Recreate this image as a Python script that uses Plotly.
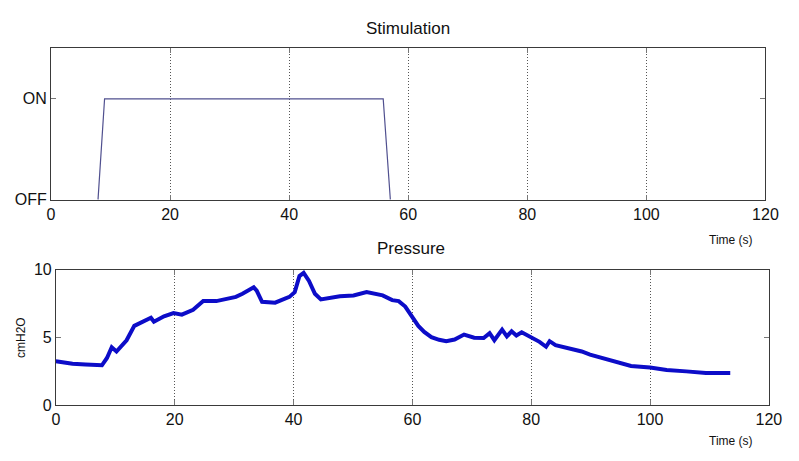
import plotly.graph_objects as go

# ---- data ----
stim_t = [7.9, 9.0, 55.8, 57.0]
stim_v = [0, 1, 1, 0]

press_t = [0, 0.5, 1.5, 2.8, 5.0, 7.0, 7.75, 8.6, 9.4, 10.2, 11.9, 13.2, 15.4, 16.0, 16.5, 18.2, 19.8,
           21.2, 23.1, 24.8, 27.0, 29.2, 30.3, 31.4, 33.3, 33.8, 34.7, 36.9, 39.3, 40.2, 41.0,
           41.7, 42.6, 43.6, 44.6, 47.8, 50.1, 52.3, 55.0, 56.6, 57.7, 58.8, 60.2, 61.0, 62.0, 63.2,
           64.5, 65.7, 67.1, 68.7, 70.4, 72.0, 73.0, 73.8, 75.1, 75.9, 76.7, 77.5, 78.4, 80.0, 81.4,
           82.5, 83.1, 84.1, 86.9, 88.5, 89.9, 91.8, 94.0, 96.8, 100.0, 102.8, 106.1, 109.4, 113.5]
press_v = [3.24, 3.2, 3.1, 3.06, 3.0, 2.97, 2.94, 3.48, 4.27, 3.96, 4.79, 5.85, 6.33, 6.45, 6.16, 6.56, 6.8,
           6.68, 7.04, 7.68, 7.68, 7.92, 7.99, 8.22, 8.7, 8.46, 7.63, 7.56, 7.99, 8.34, 9.53,
           9.76, 9.17, 8.22, 7.8, 8.04, 8.1, 8.34, 8.1, 7.75, 7.68, 7.28, 6.33, 5.85, 5.4, 5.02,
           4.82, 4.72, 4.84, 5.21, 4.98, 4.95, 5.31, 4.79, 5.57, 5.07, 5.45, 5.14, 5.38, 5.02, 4.67,
           4.31, 4.72, 4.43, 4.13, 3.96, 3.72, 3.48, 3.17, 2.89, 2.77, 2.6, 2.49, 2.37, 2.37]

x_ticks = [0, 20, 40, 60, 80, 100, 120]
stim_ticks = [0, 1]
stim_labels = ["OFF", "ON"]
press_ticks = [0, 5, 10]

W, H = 799, 461
def px(x): return x / W
def py(y): return 1 - y / H

FONT = "Liberation Sans, Arial, sans-serif"

fig = go.Figure()
fig.add_trace(go.Scatter(x=stim_t, y=stim_v, mode="lines",
                         line=dict(color="#50508f", width=1.2),
                         xaxis="x", yaxis="y", showlegend=False))
fig.add_trace(go.Scatter(x=press_t, y=press_v, mode="lines",
                         line=dict(color="#0c0cc8", width=4),
                         xaxis="x2", yaxis="y2", showlegend=False))

axcommon = dict(showline=True, linecolor="#3a3a3a", linewidth=1, mirror="ticks",
                ticks="inside", ticklen=5, tickcolor="#777777", zeroline=False,
                tickfont=dict(family=FONT, size=16, color="#111111"))
xcommon = dict(axcommon, range=[0, 120], tickvals=x_ticks, showgrid=True,
               gridcolor="#555555", griddash="1px,2px", gridwidth=1)

def ann(text, x, y, size, angle=0):
    return dict(text=text, x=px(x), y=py(y), xref="paper", yref="paper",
                xanchor="center", yanchor="middle", textangle=angle,
                showarrow=False, font=dict(family=FONT, size=size, color="#111111"))

fig.update_layout(
    width=W, height=H,
    margin=dict(l=0, r=0, t=0, b=0),
    paper_bgcolor="white", plot_bgcolor="white",
    xaxis=dict(xcommon, domain=[px(48), px(778)], anchor="y"),
    yaxis=dict(axcommon, domain=[py(199), py(42)], range=[0, 1.5], tickvals=stim_ticks,
               ticktext=stim_labels, showgrid=False, anchor="x"),
    xaxis2=dict(xcommon, domain=[px(53), px(781.5)], anchor="y2"),
    yaxis2=dict(axcommon, domain=[py(412.3), py(271.7)], range=[0, 10], tickvals=press_ticks,
                showgrid=False, anchor="x2"),
    annotations=[
        ann("Stimulation", 413, 21, 17),
        ann("Pressure", 416, 250, 17),
        ann("Time (s)", 743, 241, 12),
        ann("Time (s)", 743, 450, 12),
        ann("cmH2O", 18, 342, 12, -90),
    ],
)

fig.write_html("out.html",
               post_script="document.body.style.margin='0';document.body.style.overflow='hidden';")
